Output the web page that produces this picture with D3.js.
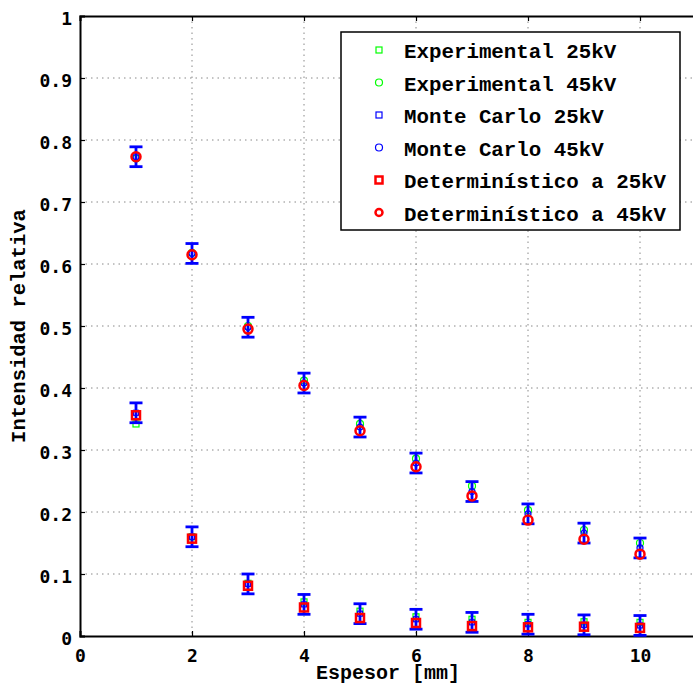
<!DOCTYPE html>
<html><head><meta charset="utf-8">
<script src="https://cdn.jsdelivr.net/npm/d3@7"></script>
<style>
body{margin:0;background:#fff;}
svg{display:block;}
</style></head>
<body>
<svg id="c" width="693" height="684"></svg>
<script>
const espesor = [1,2,3,4,5,6,7,8,9,10];
const exp25 = [0.342,0.160,0.085,0.055,0.040,0.031,0.027,0.022,0.023,0.022];
const exp45 = [0.770,0.618,0.500,0.412,0.342,0.286,0.242,0.203,0.171,0.150];
const mc25  = [0.360,0.160,0.084,0.051,0.036,0.027,0.022,0.019,0.018,0.017];
const mc45  = [0.773,0.617,0.498,0.408,0.337,0.279,0.233,0.197,0.166,0.142];
const mcErr25 = [0.016,0.016,0.016,0.016,0.016,0.016,0.016,0.016,0.016,0.016];
const mcErr45 = [0.016,0.016,0.016,0.016,0.016,0.016,0.016,0.016,0.016,0.016];
const det25 = [0.356,0.157,0.081,0.046,0.029,0.021,0.016,0.014,0.015,0.013];
const det45 = [0.773,0.615,0.495,0.404,0.331,0.273,0.226,0.187,0.156,0.132];
const xTicks = [0,2,4,6,8,10];
const yTicks = [0,0.1,0.2,0.3,0.4,0.5,0.6,0.7,0.8,0.9,1];
const legendLabels = ["Experimental 25kV","Experimental 45kV","Monte Carlo 25kV","Monte Carlo 45kV","Determinístico a 25kV","Determinístico a 45kV"];

const svg = d3.select("#c");
const L=80, T=16, W=616, H=620;
const x = d3.scaleLinear().domain([0,11]).range([L,L+W]);
const y = d3.scaleLinear().domain([0,1]).range([T+H,T]);
const tickFont = "'DejaVu Sans Mono', monospace";
const labFont = "'Liberation Mono', 'Courier New', monospace";

// grid
const g = svg.append("g");
g.selectAll(".gx").data(xTicks.filter(d=>d>0)).join("line")
  .attr("x1",d=>x(d)).attr("x2",d=>x(d)).attr("y1",T).attr("y2",T+H)
  .attr("stroke","#888").attr("stroke-width",1).attr("stroke-dasharray","1.5,4");
g.selectAll(".gy").data(yTicks.filter(d=>d>0&&d<1)).join("line")
  .attr("x1",L).attr("x2",L+W).attr("y1",d=>y(d)).attr("y2",d=>y(d))
  .attr("stroke","#888").attr("stroke-width",1).attr("stroke-dasharray","1.5,4");

// axes
const ax = svg.append("g");
const xb = d3.axisBottom(x).tickValues(xTicks).tickSize(-5).tickPadding(13).tickFormat(d3.format("d"));
const yl = d3.axisLeft(y).tickValues(yTicks).tickSize(-5).tickPadding(8).tickFormat(d=>d===0?"0":d===1?"1":d3.format(".1f")(d));
const xt = d3.axisTop(x).tickValues(xTicks).tickSize(-5).tickFormat("");
const gxb = ax.append("g").attr("transform",`translate(0,${T+H})`).call(xb);
const gyl = ax.append("g").attr("transform",`translate(${L},0)`).call(yl);
const gxt = ax.append("g").attr("transform",`translate(0,${T})`).call(xt);
[gxb,gyl,gxt].forEach(a=>{
  a.select(".domain").attr("stroke","#000").attr("stroke-width",2);
  a.selectAll(".tick line").attr("stroke","#000").attr("stroke-width",1.2);
  a.selectAll("text").attr("font-family",tickFont).attr("font-weight","bold").attr("font-size",18).attr("fill","#000");
});
gyl.selectAll("text").attr("dy","0.45em");

// series
const pts = (arr)=>espesor.map((e,i)=>({x:e,v:arr[i],i}));
const sq=(sel,size,color,sw)=>sel.append("rect").attr("x",d=>x(d.x)-size/2).attr("y",d=>y(d.v)-size/2)
  .attr("width",size).attr("height",size).attr("fill","none").attr("stroke",color).attr("stroke-width",sw);
const ci=(sel,r,color,sw)=>sel.append("circle").attr("cx",d=>x(d.x)).attr("cy",d=>y(d.v)).attr("r",r)
  .attr("fill","none").attr("stroke",color).attr("stroke-width",sw);

const s = svg.append("g");
const exp25g = s.append("g"); exp25g.selectAll("g").data(pts(exp25)).join("g").call(sel=>sq(sel,6,"#00ff00",1.2));
const exp45g = s.append("g"); exp45g.selectAll("g").data(pts(exp45)).join("g").call(sel=>ci(sel,3.5,"#00ff00",1.2));

function errbars(arr,err){
  const eg = s.append("g");
  const d = pts(arr).map(p=>({...p,e:err[p.i]}));
  eg.selectAll(".v").data(d).join("line")
    .attr("x1",p=>x(p.x)).attr("x2",p=>x(p.x)).attr("y1",p=>y(p.v-p.e)).attr("y2",p=>y(p.v+p.e))
    .attr("stroke","#0000ff").attr("stroke-width",2.8);
  eg.selectAll(".t").data(d).join("line")
    .attr("x1",p=>x(p.x)-6.5).attr("x2",p=>x(p.x)+6.5).attr("y1",p=>y(p.v+p.e)).attr("y2",p=>y(p.v+p.e))
    .attr("stroke","#0000ff").attr("stroke-width",2.8);
  eg.selectAll(".b").data(d).join("line")
    .attr("x1",p=>x(p.x)-6.5).attr("x2",p=>x(p.x)+6.5).attr("y1",p=>y(p.v-p.e)).attr("y2",p=>y(p.v-p.e))
    .attr("stroke","#0000ff").attr("stroke-width",2.8);
}
errbars(mc25,mcErr25);
errbars(mc45,mcErr45);
const mc25g = s.append("g"); mc25g.selectAll("g").data(pts(mc25)).join("g").call(sel=>sq(sel,5,"#0000ff",1.2));
const mc45g = s.append("g"); mc45g.selectAll("g").data(pts(mc45)).join("g").call(sel=>ci(sel,3,"#0000ff",1.2));
const d25g = s.append("g"); d25g.selectAll("g").data(pts(det25)).join("g").call(sel=>sq(sel,8,"#ff0000",2.5));
const d45g = s.append("g"); d45g.selectAll("g").data(pts(det45)).join("g").call(sel=>ci(sel,4.5,"#ff0000",2.5));

// labels
svg.append("text").attr("x",L+W/2).attr("y",679).attr("text-anchor","middle")
  .attr("font-family",labFont).attr("font-weight","bold").attr("font-size",20).text("Espesor [mm]");
svg.append("text").attr("transform",`translate(25,${T+H/2}) rotate(-90)`).attr("text-anchor","middle")
  .attr("font-family",labFont).attr("font-weight","bold").attr("font-size",20.5).text("Intensidad relativa");

// legend
const lg = svg.append("g");
lg.append("rect").attr("x",341).attr("y",32).attr("width",339).attr("height",198)
  .attr("fill","#fff").attr("stroke","#000").attr("stroke-width",1.5);
const rowY = i=>52+i*32.5;
const styles = [
  {t:"s",size:6,c:"#00ff00",w:1.2},
  {t:"c",size:3.5,c:"#00ff00",w:1.2},
  {t:"s",size:6,c:"#0000ff",w:1.2},
  {t:"c",size:3.5,c:"#0000ff",w:1.2},
  {t:"s",size:7,c:"#ff0000",w:2.5},
  {t:"c",size:3.5,c:"#ff0000",w:2.5}
];
legendLabels.forEach((lab,i)=>{
  const st=styles[i], cy=rowY(i)-2;
  if(st.t==="s") lg.append("rect").attr("x",379-st.size/2).attr("y",cy-st.size/2).attr("width",st.size).attr("height",st.size)
    .attr("fill","none").attr("stroke",st.c).attr("stroke-width",st.w);
  else lg.append("circle").attr("cx",379).attr("cy",cy).attr("r",st.size).attr("fill","none").attr("stroke",st.c).attr("stroke-width",st.w);
  lg.append("text").attr("x",404).attr("y",rowY(i)+6).attr("font-family",labFont).attr("font-weight","bold")
    .attr("font-size",20.8).attr("fill","#000").text(lab);
});
</script>
</body></html>
